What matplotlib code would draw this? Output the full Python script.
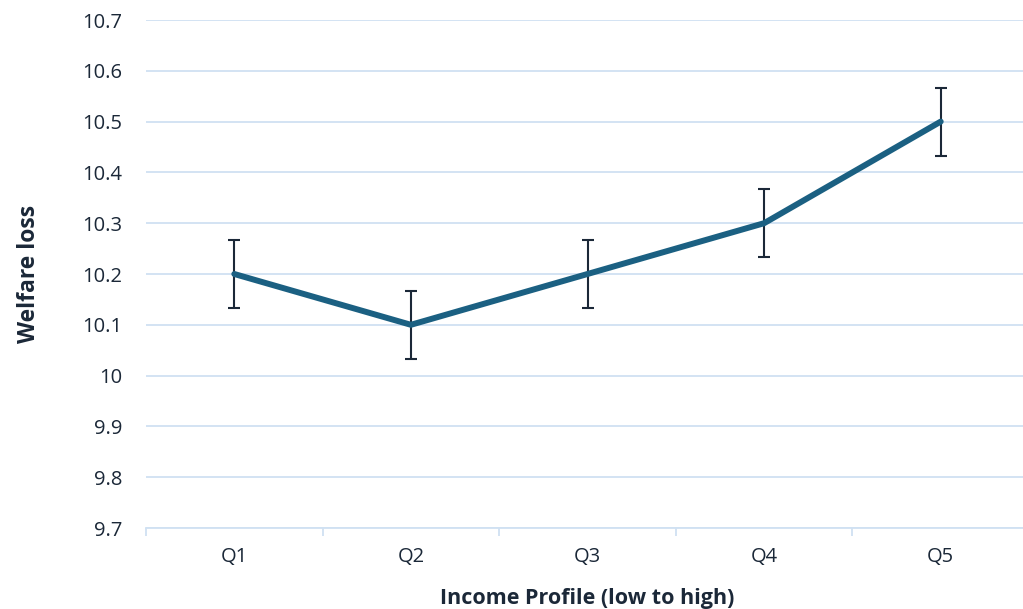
import matplotlib.pyplot as plt
import numpy as np

quintiles = ["Q1", "Q2", "Q3", "Q4", "Q5"]
welfare_loss = [10.2, 10.1, 10.2, 10.3, 10.5]
error = [0.067, 0.067, 0.067, 0.067, 0.067]
y_ticks = [9.7, 9.8, 9.9, 10, 10.1, 10.2, 10.3, 10.4, 10.5, 10.6, 10.7]

plt.rcParams["font.family"] = ["Open Sans", "DejaVu Sans"]

fig = plt.figure(figsize=(10.23, 6.09), dpi=100)
ax = fig.add_axes([146 / 1023, 81 / 609, 883 / 1023, 508 / 609])

x = np.arange(len(quintiles))
ax.errorbar(x, welfare_loss, yerr=error, fmt="none", ecolor="#1b2838",
            elinewidth=1.5, capsize=4.5, capthick=1.5, zorder=3)
ax.plot(x, welfare_loss, color="#1b6082", lw=4.3, solid_capstyle="round",
        solid_joinstyle="round", zorder=4)

ax.set_xlim(-0.5, len(quintiles) - 0.5)
ax.set_ylim(9.7, 10.7)
ax.set_yticks(y_ticks)
ax.set_yticklabels([f"{v:g}" for v in y_ticks])
ax.grid(axis="y", color="#d0e1f2", lw=1.3)
ax.set_axisbelow(True)

# boundary ticks between categories, labels at centres
ax.set_xticks(np.arange(-0.5, len(quintiles), 1.0))
ax.set_xticklabels([])
ax.set_xticks(x, minor=True)
ax.set_xticklabels(quintiles, minor=True)
ax.tick_params(axis="x", which="major", length=6, color="#d0e1f2", width=1.3)
ax.tick_params(axis="x", which="minor", length=0, pad=14, labelsize=14.5,
               labelcolor="#1b2838")
ax.tick_params(axis="y", length=0, pad=17, labelsize=14.5, labelcolor="#1b2838")

for s in ["top", "right", "left"]:
    ax.spines[s].set_visible(False)
ax.spines["bottom"].set_color("#d0e1f2")
ax.spines["bottom"].set_linewidth(1.3)

ax.set_xlabel("Income Profile (low to high)", fontsize=15.5, fontweight="bold",
              color="#1b2838", labelpad=15)
ax.set_ylabel("Welfare loss", fontsize=16.5, fontweight="bold",
              color="#1b2838", labelpad=30)

fig.savefig("out.png", dpi=100)
